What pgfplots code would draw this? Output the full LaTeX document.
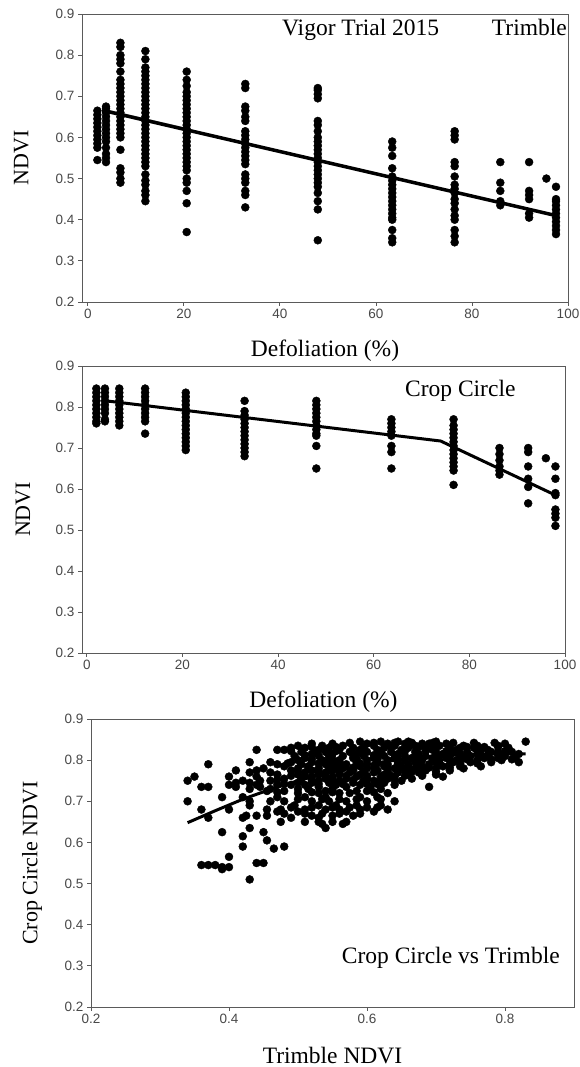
\documentclass[border=0pt]{standalone}
\usepackage{fontspec}
\setmainfont{Liberation Serif}
\newfontfamily\ticksf{Liberation Sans}
\usepackage{pgfplots}
\pgfplotsset{compat=1.18}
\definecolor{axgray}{HTML}{5A5A5A}
\definecolor{tickgray}{HTML}{484848}
\pgfplotsset{
  panel/.style={
    scale only axis,
    axis line style={axgray, line width=0.8pt},
    tick style={axgray, line width=0.8pt},
    tick align=outside, major tick length=4pt,
    xtick pos=bottom, ytick pos=left,
    ymin=0.2, ymax=0.9, ytick={0.2,0.3,0.4,0.5,0.6,0.7,0.8,0.9},
    yticklabel style={/pgf/number format/fixed, /pgf/number format/precision=1, /pgf/number format/fixed zerofill},
    tick label style={font=\ticksf\fontsize{13.5}{15}\selectfont, text=tickgray},
    /pgf/number format/assume math mode=true,
    xlabel style={font=\fontsize{23.5}{27}\selectfont, at={(axis description cs:0.5,-0.17)}, anchor=center},
    ylabel style={font=\fontsize{22}{26}\selectfont, anchor=center},
    clip=false,
  },
  dots/.style={only marks, mark=*, mark size=4pt, mark options={fill=black, draw=black}},
  fit/.style={no marks, black, line width=3.5pt, line join=round},
}
\tikzset{lab/.style={anchor=base west, inner sep=0pt, font=\fontsize{23.5}{27}\selectfont}}
\begin{document}
\begin{tikzpicture}
\path[use as bounding box] (0,0) rectangle (579pt,1067pt);
% ---------------- Panel 1: Trimble ----------------
\begin{axis}[panel, at={(82pt,765pt)}, anchor=south west, width=486pt, height=288pt,
  xmin=-1.2, xmax=100, xtick={0,20,40,60,80,100},
  xlabel={Defoliation (\%)}, ylabel={NDVI},
  ylabel style={at={(axis description cs:-0.125,0.5)}}]
\addplot[dots] coordinates {
(2,0.545)(2,0.575)(2,0.585)(2,0.595)(2,0.605)(2,0.615)(2,0.625)(2,0.635)(2,0.645)(2,0.655)(2,0.665)
(3.8,0.54)(3.8,0.55)(3.8,0.56)(3.8,0.575)(3.8,0.59)(3.8,0.60)(3.8,0.61)(3.8,0.62)(3.8,0.63)(3.8,0.64)(3.8,0.65)(3.8,0.66)(3.8,0.67)(3.8,0.675)
(6.8,0.83)(6.8,0.82)(6.8,0.80)(6.8,0.79)(6.8,0.78)(6.8,0.76)(6.8,0.74)(6.8,0.73)(6.8,0.72)(6.8,0.71)(6.8,0.70)(6.8,0.69)(6.8,0.68)(6.8,0.67)(6.8,0.66)(6.8,0.65)(6.8,0.64)(6.8,0.63)(6.8,0.62)(6.8,0.61)(6.8,0.60)(6.8,0.57)(6.8,0.525)(6.8,0.515)(6.8,0.50)(6.8,0.49)
(12,0.81)(12,0.79)(12,0.77)(12,0.76)(12,0.75)(12,0.74)(12,0.73)(12,0.72)(12,0.71)(12,0.70)(12,0.69)(12,0.68)(12,0.67)(12,0.66)(12,0.65)(12,0.64)(12,0.63)(12,0.62)(12,0.61)(12,0.60)(12,0.59)(12,0.58)(12,0.57)(12,0.56)(12,0.55)(12,0.54)(12,0.53)(12,0.51)(12,0.495)(12,0.485)(12,0.47)(12,0.46)(12,0.445)
(20.6,0.76)(20.6,0.74)(20.6,0.725)(20.6,0.71)(20.6,0.70)(20.6,0.69)(20.6,0.68)(20.6,0.67)(20.6,0.66)(20.6,0.65)(20.6,0.64)(20.6,0.63)(20.6,0.62)(20.6,0.61)(20.6,0.60)(20.6,0.59)(20.6,0.58)(20.6,0.57)(20.6,0.56)(20.6,0.55)(20.6,0.54)(20.6,0.53)(20.6,0.52)(20.6,0.50)(20.6,0.49)(20.6,0.47)(20.6,0.44)(20.6,0.37)
(32.8,0.73)(32.8,0.72)(32.8,0.675)(32.8,0.665)(32.8,0.65)(32.8,0.64)(32.8,0.615)(32.8,0.605)(32.8,0.595)(32.8,0.585)(32.8,0.575)(32.8,0.565)(32.8,0.555)(32.8,0.545)(32.8,0.535)(32.8,0.51)(32.8,0.50)(32.8,0.49)(32.8,0.47)(32.8,0.46)(32.8,0.43)
(47.9,0.72)(47.9,0.715)(47.9,0.705)(47.9,0.695)(47.9,0.64)(47.9,0.63)(47.9,0.615)(47.9,0.60)(47.9,0.59)(47.9,0.58)(47.9,0.57)(47.9,0.56)(47.9,0.55)(47.9,0.54)(47.9,0.53)(47.9,0.52)(47.9,0.51)(47.9,0.50)(47.9,0.49)(47.9,0.48)(47.9,0.465)(47.9,0.445)(47.9,0.425)(47.9,0.35)
(63.4,0.59)(63.4,0.575)(63.4,0.555)(63.4,0.525)(63.4,0.505)(63.4,0.495)(63.4,0.485)(63.4,0.475)(63.4,0.465)(63.4,0.455)(63.4,0.445)(63.4,0.435)(63.4,0.425)(63.4,0.415)(63.4,0.405)(63.4,0.40)(63.4,0.375)(63.4,0.355)(63.4,0.345)
(76.4,0.615)(76.4,0.605)(76.4,0.595)(76.4,0.54)(76.4,0.53)(76.4,0.505)(76.4,0.485)(76.4,0.475)(76.4,0.465)(76.4,0.45)(76.4,0.44)(76.4,0.425)(76.4,0.41)(76.4,0.40)(76.4,0.375)(76.4,0.36)(76.4,0.345)
(85.9,0.54)(85.9,0.49)(85.9,0.47)(85.9,0.445)(85.9,0.435)
(91.9,0.54)(91.9,0.47)(91.9,0.46)(91.9,0.45)(91.9,0.415)(91.9,0.405)
(95.5,0.50)
(97.5,0.48)(97.5,0.45)(97.5,0.445)(97.5,0.435)(97.5,0.425)(97.5,0.415)(97.5,0.405)(97.5,0.395)(97.5,0.385)(97.5,0.375)(97.5,0.365)
};
\addplot[no marks, gray, line width=1pt] coordinates {(3.5,0.668)(20.6,0.622)};
\addplot[fit] coordinates {(3,0.666)(97.5,0.41)};
\node[lab] at (rel axis cs:0.4115,0.927) {Vigor Trial 2015};
\node[lab] at (rel axis cs:0.843,0.927) {Trimble};
\end{axis}
% ---------------- Panel 2: Crop Circle ----------------
\begin{axis}[panel, at={(82pt,414pt)}, anchor=south west, width=483pt, height=287pt,
  xmin=-1, xmax=100, xtick={0,20,40,60,80,100},
  xlabel={Defoliation (\%)}, ylabel={NDVI},
  ylabel style={at={(axis description cs:-0.122,0.5)}}]
\addplot[dots] coordinates {
(2,0.845)(2,0.835)(2,0.825)(2,0.815)(2,0.805)(2,0.795)(2,0.785)(2,0.775)(2,0.765)(2,0.76)
(3.8,0.845)(3.8,0.835)(3.8,0.825)(3.8,0.815)(3.8,0.805)(3.8,0.795)(3.8,0.785)(3.8,0.77)(3.8,0.765)
(6.8,0.845)(6.8,0.835)(6.8,0.825)(6.8,0.815)(6.8,0.805)(6.8,0.795)(6.8,0.785)(6.8,0.775)(6.8,0.765)(6.8,0.755)
(12.2,0.845)(12.2,0.835)(12.2,0.825)(12.2,0.815)(12.2,0.805)(12.2,0.795)(12.2,0.785)(12.2,0.775)(12.2,0.765)(12.2,0.735)
(20.7,0.835)(20.7,0.825)(20.7,0.815)(20.7,0.805)(20.7,0.795)(20.7,0.785)(20.7,0.775)(20.7,0.765)(20.7,0.755)(20.7,0.745)(20.7,0.735)(20.7,0.725)(20.7,0.715)(20.7,0.705)(20.7,0.695)
(33,0.815)(33,0.79)(33,0.78)(33,0.77)(33,0.76)(33,0.75)(33,0.74)(33,0.73)(33,0.72)(33,0.71)(33,0.70)(33,0.69)(33,0.68)
(48,0.815)(48,0.805)(48,0.795)(48,0.785)(48,0.775)(48,0.765)(48,0.755)(48,0.745)(48,0.735)(48,0.73)(48,0.705)(48,0.65)
(63.7,0.77)(63.7,0.76)(63.7,0.75)(63.7,0.74)(63.7,0.73)(63.7,0.705)(63.7,0.69)(63.7,0.65)
(76.7,0.77)(76.7,0.755)(76.7,0.745)(76.7,0.735)(76.7,0.725)(76.7,0.715)(76.7,0.705)(76.7,0.695)(76.7,0.685)(76.7,0.675)(76.7,0.665)(76.7,0.655)(76.7,0.645)(76.7,0.61)
(86.3,0.70)(86.3,0.685)(86.3,0.67)(86.3,0.655)(86.3,0.645)(86.3,0.635)
(92.3,0.70)(92.3,0.69)(92.3,0.655)(92.3,0.625)(92.3,0.605)(92.3,0.565)
(96,0.675)
(98,0.655)(98,0.625)(98,0.59)(98,0.585)(98,0.55)(98,0.54)(98,0.53)(98,0.51)
};
\addplot[fit, line width=3pt] coordinates {(4,0.815)(74,0.717)(98,0.585)};
\node[lab] at (rel axis cs:0.6687,0.893) {Crop Circle};
\end{axis}
% ---------------- Panel 3: Crop Circle vs Trimble ----------------
\begin{axis}[panel, at={(91pt,60pt)}, anchor=south west, width=483pt, height=288pt,
  xmin=0.2, xmax=0.9, xtick={0.2,0.4,0.6,0.8},
  xticklabel style={/pgf/number format/fixed, /pgf/number format/precision=1, /pgf/number format/fixed zerofill},
  xlabel={Trimble NDVI}, ylabel={Crop Circle NDVI},
  ylabel style={at={(axis description cs:-0.122,0.5)}}]
\addplot[dots] coordinates {
(0.59,0.845)(0.62,0.845)(0.645,0.845)(0.66,0.845)(0.70,0.845)(0.83,0.845)
(0.52,0.84)(0.55,0.84)(0.60,0.84)(0.63,0.84)(0.655,0.84)(0.68,0.84)(0.69,0.84)(0.715,0.84)(0.80,0.84)
(0.50,0.835)(0.535,0.835)(0.565,0.835)(0.61,0.835)(0.64,0.835)(0.67,0.835)(0.705,0.835)(0.74,0.835)(0.76,0.835)(0.79,0.835)
(0.49,0.83)(0.51,0.83)(0.545,0.83)(0.58,0.83)(0.625,0.83)(0.66,0.83)(0.685,0.83)(0.72,0.83)(0.735,0.83)(0.755,0.83)(0.805,0.83)
(0.44,0.825)(0.47,0.825)(0.48,0.825)(0.53,0.825)(0.56,0.825)(0.59,0.825)(0.615,0.825)(0.65,0.825)(0.695,0.825)(0.73,0.825)(0.765,0.825)(0.775,0.825)
(0.505,0.82)(0.54,0.82)(0.575,0.82)(0.60,0.82)(0.635,0.82)(0.67,0.82)(0.70,0.82)(0.725,0.82)(0.745,0.82)(0.78,0.82)(0.79,0.82)(0.81,0.82)
(0.52,0.815)(0.55,0.815)(0.585,0.815)(0.62,0.815)(0.645,0.815)(0.675,0.815)(0.71,0.815)(0.735,0.815)(0.76,0.815)(0.82,0.815)
(0.495,0.81)(0.53,0.81)(0.565,0.81)(0.595,0.81)(0.625,0.81)(0.655,0.81)(0.685,0.81)(0.72,0.81)(0.75,0.81)(0.775,0.81)(0.80,0.81)
(0.51,0.805)(0.545,0.805)(0.58,0.805)(0.61,0.805)(0.64,0.805)(0.665,0.805)(0.695,0.805)(0.715,0.805)(0.74,0.805)(0.77,0.805)(0.79,0.805)(0.815,0.805)
(0.50,0.80)(0.535,0.80)(0.56,0.80)(0.60,0.80)(0.63,0.80)(0.655,0.80)(0.68,0.80)(0.705,0.80)(0.73,0.80)(0.76,0.80)(0.795,0.80)
(0.43,0.795)(0.46,0.795)(0.49,0.795)(0.52,0.795)(0.55,0.795)(0.585,0.795)(0.615,0.795)(0.645,0.795)(0.67,0.795)(0.70,0.795)(0.725,0.795)(0.75,0.795)(0.78,0.795)(0.82,0.795)
(0.37,0.79)(0.47,0.79)(0.505,0.79)(0.54,0.79)(0.57,0.79)(0.60,0.79)(0.63,0.79)(0.66,0.79)(0.69,0.79)(0.72,0.79)
(0.48,0.785)(0.515,0.785)(0.555,0.785)(0.59,0.785)(0.625,0.785)(0.65,0.785)(0.68,0.785)(0.71,0.785)(0.735,0.785)(0.765,0.785)
(0.45,0.78)(0.50,0.78)(0.53,0.78)(0.565,0.78)(0.60,0.78)(0.64,0.78)(0.67,0.78)(0.70,0.78)(0.74,0.78)
(0.41,0.775)(0.44,0.775)(0.49,0.775)(0.52,0.775)(0.55,0.775)(0.58,0.775)(0.615,0.775)(0.655,0.775)(0.685,0.775)(0.72,0.775)
(0.43,0.77)(0.46,0.77)(0.51,0.77)(0.54,0.77)(0.575,0.77)(0.61,0.77)(0.645,0.77)(0.675,0.77)
(0.47,0.765)(0.50,0.765)(0.53,0.765)(0.56,0.765)(0.59,0.765)(0.625,0.765)(0.66,0.765)(0.70,0.765)
(0.35,0.76)(0.40,0.76)(0.44,0.76)(0.52,0.76)(0.55,0.76)(0.585,0.76)(0.62,0.76)(0.64,0.76)(0.71,0.76)
(0.48,0.755)(0.505,0.755)(0.54,0.755)(0.57,0.755)(0.60,0.755)(0.63,0.755)(0.665,0.755)
(0.34,0.75)(0.42,0.75)(0.445,0.75)(0.46,0.75)(0.53,0.75)(0.56,0.75)(0.595,0.75)(0.61,0.75)(0.65,0.75)
(0.41,0.745)(0.43,0.745)(0.50,0.745)(0.52,0.745)(0.545,0.745)(0.58,0.745)(0.625,0.745)
(0.40,0.74)(0.44,0.74)(0.47,0.74)(0.49,0.74)(0.51,0.74)(0.555,0.74)(0.59,0.74)(0.64,0.74)
(0.36,0.735)(0.37,0.735)(0.41,0.735)(0.445,0.735)(0.53,0.735)(0.57,0.735)(0.605,0.735)(0.69,0.735)
(0.43,0.73)(0.46,0.73)(0.50,0.73)(0.515,0.73)(0.55,0.73)(0.62,0.73)
(0.455,0.725)(0.48,0.725)(0.54,0.725)(0.585,0.725)(0.60,0.725)
(0.50,0.72)(0.53,0.72)(0.56,0.72)(0.575,0.72)(0.63,0.72)
(0.39,0.71)(0.42,0.71)(0.47,0.71)(0.51,0.71)(0.54,0.71)(0.59,0.71)(0.615,0.71)
(0.34,0.70)(0.43,0.70)(0.46,0.70)(0.48,0.70)(0.52,0.70)(0.545,0.70)(0.57,0.70)(0.60,0.70)(0.64,0.70)
(0.43,0.69)(0.495,0.69)(0.53,0.69)(0.555,0.69)(0.585,0.69)(0.62,0.69)
(0.36,0.68)(0.40,0.68)(0.455,0.68)(0.475,0.68)(0.51,0.68)(0.54,0.68)(0.56,0.68)(0.59,0.68)(0.63,0.68)
(0.47,0.675)(0.50,0.675)(0.57,0.675)(0.61,0.675)
(0.425,0.665)(0.44,0.665)(0.455,0.665)(0.52,0.665)(0.55,0.665)(0.58,0.665)
(0.37,0.66)(0.42,0.66)(0.49,0.66)(0.53,0.66)
(0.475,0.65)(0.51,0.65)(0.53,0.65)(0.55,0.65)(0.57,0.65)
(0.535,0.645)(0.565,0.645)
(0.43,0.635)(0.54,0.635)
(0.39,0.625)(0.45,0.625)
(0.42,0.615)(0.455,0.605)
(0.42,0.59)(0.48,0.59)(0.465,0.585)
(0.40,0.565)
(0.44,0.55)(0.45,0.55)
(0.36,0.545)(0.37,0.545)(0.38,0.545)
(0.39,0.54)(0.40,0.54)(0.39,0.535)
(0.43,0.51)
(0.575,0.842)(0.61,0.842)(0.64,0.842)(0.665,0.842)(0.695,0.842)(0.725,0.842)(0.755,0.842)(0.785,0.842)
(0.52,0.832)(0.555,0.832)(0.595,0.832)(0.635,0.832)(0.675,0.832)(0.70,0.832)(0.745,0.832)(0.77,0.832)(0.79,0.832)
(0.49,0.822)(0.525,0.822)(0.555,0.822)(0.59,0.822)(0.62,0.822)(0.655,0.822)(0.685,0.822)(0.715,0.822)(0.76,0.822)(0.80,0.822)
(0.51,0.812)(0.545,0.812)(0.58,0.812)(0.61,0.812)(0.64,0.812)(0.67,0.812)(0.70,0.812)(0.735,0.812)(0.765,0.812)(0.79,0.812)
(0.52,0.802)(0.55,0.802)(0.585,0.802)(0.615,0.802)(0.645,0.802)(0.67,0.802)(0.695,0.802)(0.72,0.802)(0.745,0.802)(0.78,0.802)(0.81,0.802)
(0.485,0.792)(0.53,0.792)(0.56,0.792)(0.59,0.792)(0.615,0.792)(0.645,0.792)(0.675,0.792)(0.705,0.792)(0.735,0.792)(0.76,0.792)
(0.515,0.782)(0.545,0.782)(0.58,0.782)(0.61,0.782)(0.63,0.782)(0.66,0.782)(0.69,0.782)(0.72,0.782)
(0.50,0.772)(0.53,0.772)(0.56,0.772)(0.595,0.772)(0.63,0.772)(0.665,0.772)(0.70,0.772)
(0.49,0.762)(0.51,0.762)(0.54,0.762)(0.57,0.762)(0.60,0.762)(0.635,0.762)(0.655,0.762)(0.68,0.762)
(0.47,0.752)(0.52,0.752)(0.55,0.752)(0.58,0.752)(0.62,0.752)(0.64,0.752)
(0.48,0.742)(0.53,0.742)(0.565,0.742)(0.60,0.742)(0.615,0.742)
(0.47,0.722)(0.52,0.722)(0.55,0.722)(0.61,0.722)
(0.50,0.705)(0.535,0.705)(0.56,0.705)(0.585,0.705)(0.62,0.705)
(0.49,0.685)(0.52,0.685)(0.55,0.685)(0.575,0.685)(0.60,0.685)(0.615,0.685)
(0.48,0.67)(0.51,0.67)(0.535,0.67)(0.56,0.67)(0.59,0.67)
};
\addplot[fit, line width=3pt] coordinates {(0.34,0.648)(0.38,0.677)(0.42,0.705)(0.46,0.729)(0.50,0.75)(0.54,0.768)(0.58,0.783)(0.62,0.795)(0.66,0.804)(0.70,0.81)(0.74,0.813)(0.78,0.815)(0.83,0.815)};
\node[lab] at (rel axis cs:0.519,0.152) {Crop Circle vs Trimble};
\end{axis}
\end{tikzpicture}
\end{document}
